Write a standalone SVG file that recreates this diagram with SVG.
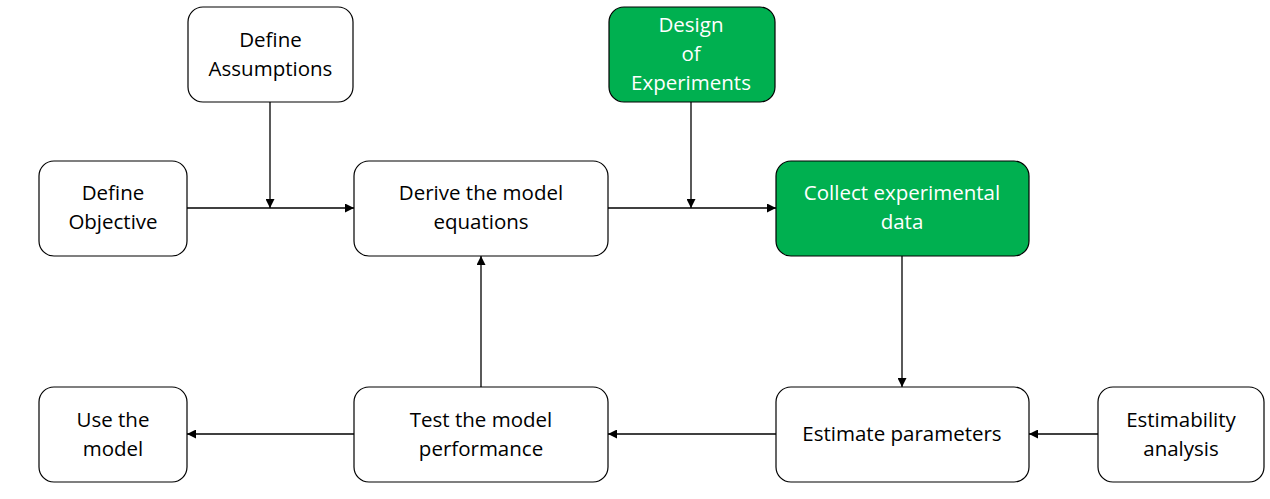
<svg xmlns="http://www.w3.org/2000/svg" width="1270" height="499" viewBox="0 0 1270 499">
<defs>
<style>
.box{fill:#fff;stroke:#000;stroke-width:1.2}
.green{fill:#00B050;stroke:#000;stroke-width:1.2}
.t{font-family:"Open Sans","Noto Sans",sans-serif;font-size:20.5px;fill:#000;text-anchor:middle}
.w{fill:#fff}
.c{stroke:#000;stroke-width:1.3;fill:none}
</style>
<marker id="a" viewBox="0 0 10 10" refX="10" refY="5" markerWidth="10" markerHeight="9" markerUnits="userSpaceOnUse" orient="auto">
<path d="M0,0 L10,5 L0,10 Z" fill="#000"/>
</marker>
</defs>
<rect width="1270" height="499" fill="#fff"/>
<g id="connectors">
<line class="c" x1="187" y1="208" x2="354" y2="208" marker-end="url(#a)"/>
<line class="c" x1="270" y1="102" x2="270" y2="208" marker-end="url(#a)"/>
<line class="c" x1="608" y1="208" x2="776" y2="208" marker-end="url(#a)"/>
<line class="c" x1="691" y1="102" x2="691" y2="208" marker-end="url(#a)"/>
<line class="c" x1="902" y1="256" x2="902" y2="387" marker-end="url(#a)"/>
<line class="c" x1="1098" y1="434" x2="1029" y2="434" marker-end="url(#a)"/>
<line class="c" x1="776" y1="434" x2="608" y2="434" marker-end="url(#a)"/>
<line class="c" x1="354" y1="434" x2="187" y2="434" marker-end="url(#a)"/>
<line class="c" x1="481" y1="387" x2="481" y2="256" marker-end="url(#a)"/>
</g>
<g id="assumptions">
<rect class="box" x="188" y="7" width="165" height="95" rx="15"/>
<text class="t" x="270.5" y="47">Define</text>
<text class="t" x="270.5" y="76">Assumptions</text>
</g>
<g id="objective">
<rect class="box" x="39" y="161" width="148" height="95" rx="15"/>
<text class="t" x="113" y="200">Define</text>
<text class="t" x="113" y="229">Objective</text>
</g>
<g id="derive">
<rect class="box" x="354" y="161" width="254" height="95" rx="15"/>
<text class="t" x="481" y="200">Derive the model</text>
<text class="t" x="481" y="229">equations</text>
</g>
<g id="design">
<rect class="green" x="609" y="7" width="166" height="95" rx="15"/>
<text class="t w" x="691" y="32">Design</text>
<text class="t w" x="691" y="61">of</text>
<text class="t w" x="691" y="90">Experiments</text>
</g>
<g id="collect">
<rect class="green" x="776" y="161" width="253" height="95" rx="15"/>
<text class="t w" x="902" y="200">Collect experimental</text>
<text class="t w" x="902" y="229">data</text>
</g>
<g id="use">
<rect class="box" x="39" y="387" width="148" height="95" rx="15"/>
<text class="t" x="113" y="427">Use the</text>
<text class="t" x="113" y="456">model</text>
</g>
<g id="test">
<rect class="box" x="354" y="387" width="254" height="95" rx="15"/>
<text class="t" x="481" y="427">Test the model</text>
<text class="t" x="481" y="456">performance</text>
</g>
<g id="estimate">
<rect class="box" x="776" y="387" width="253" height="95" rx="15"/>
<text class="t" x="902" y="441">Estimate parameters</text>
</g>
<g id="estimability">
<rect class="box" x="1098" y="387" width="166" height="95" rx="15"/>
<text class="t" x="1181" y="427">Estimability</text>
<text class="t" x="1181" y="456">analysis</text>
</g>
</svg>
